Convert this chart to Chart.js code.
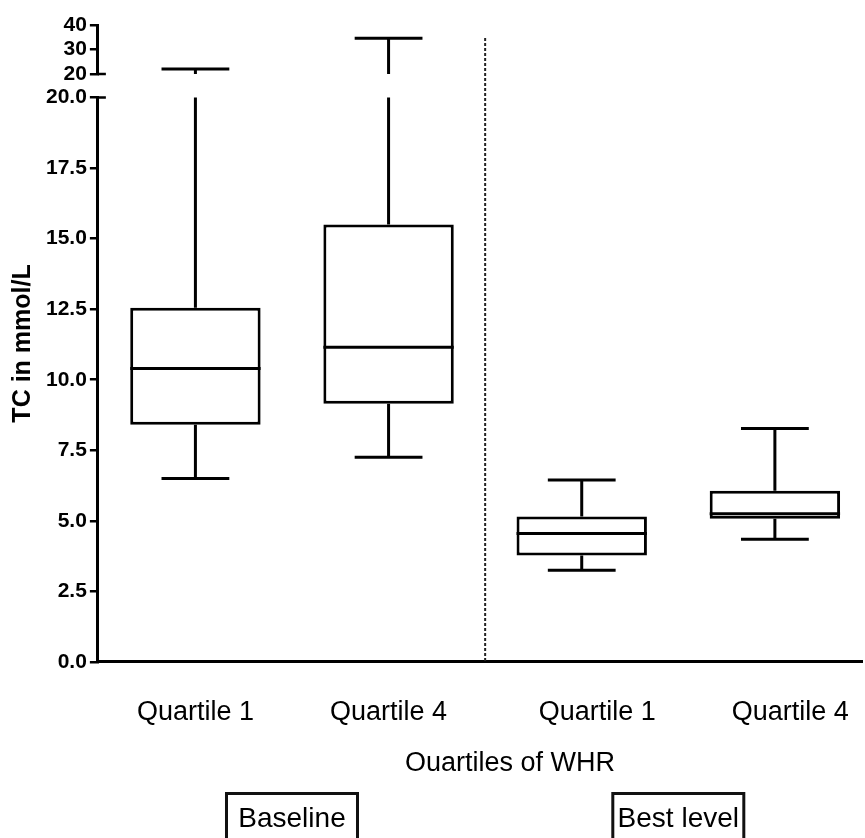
<!DOCTYPE html>
<html>
<head>
<meta charset="utf-8">
<script src="https://cdn.jsdelivr.net/npm/chart.js@4.4.1/dist/chart.umd.min.js"></script>
<style>
  body { margin: 0; background: #fff; }
  #wrap { width: 865px; height: 838px; }
</style>
</head>
<body>
<div id="wrap"><canvas id="tcChart"></canvas></div>
<script>
// groups along the x axis
const quartiles = ["Quartile 1", "Quartile 4", "Quartile 1", "Quartile 4"];
const periods = ["Baseline", "Baseline", "Best level", "Best level"];
const periodNames = ["Baseline", "Best level"];

// TC (mmol/L) five-number summary per group
const tcMin = [6.5, 7.25, 3.25, 4.35];
const tcQ1 = [8.4, 9.15, 3.77, 5.07];
const tcMedian = [10.4, 11.15, 4.55, 5.25];
const tcQ3 = [12.55, 15.5, 5.15, 6.07];
const tcMax = [22, 34.6, 6.45, 8.27];

// y axis is broken at 20: fine lower part, coarse upper part
const lowerTicks = [0, 2.5, 5, 7.5, 10, 12.5, 15, 17.5, 20];
const upperTicks = [20, 30, 40];
const AXIS_BREAK = 20;

const ink = "#000";
Chart.defaults.font.family = "'Liberation Sans', Arial, sans-serif";
Chart.defaults.color = ink;

// pixel segments of a vertical run [v0, v1], split over the break
function runSegments(scales, v0, v1) {
  const {y, yTop} = scales;
  const out = [];
  if (v0 < AXIS_BREAK) out.push([y.getPixelForValue(v0), y.getPixelForValue(Math.min(v1, AXIS_BREAK))]);
  if (v1 > AXIS_BREAK) out.push([yTop.getPixelForValue(Math.max(v0, AXIS_BREAK)), yTop.getPixelForValue(v1)]);
  return out;
}

function valuePixel(scales, v) {
  return v <= AXIS_BREAK ? scales.y.getPixelForValue(v) : scales.yTop.getPixelForValue(v);
}

const boxPlotParts = {
  id: "boxPlotParts",
  beforeDatasetsDraw(chart) {
    const {ctx, chartArea, scales} = chart;
    const meta = chart.getDatasetMeta(0);

    // dotted divider between baseline and best level
    const lastBase = periods.lastIndexOf(periodNames[0]);
    const sx = scales.x.getPixelForValue(lastBase + 0.5);
    ctx.save();
    ctx.strokeStyle = "#222";
    ctx.lineWidth = 2;
    ctx.setLineDash([3, 2]);
    ctx.beginPath();
    ctx.moveTo(sx, chartArea.top + 13);
    ctx.lineTo(sx, chartArea.bottom);
    ctx.stroke();
    ctx.restore();

    // whiskers and caps
    ctx.save();
    ctx.strokeStyle = ink;
    ctx.lineWidth = 3;
    meta.data.forEach((bar, i) => {
      const cap = bar.width * 0.26;
      const runs = runSegments(scales, tcQ3[i], tcMax[i]).concat(runSegments(scales, tcMin[i], tcQ1[i]));
      ctx.beginPath();
      runs.forEach(([a, b]) => { ctx.moveTo(bar.x, a); ctx.lineTo(bar.x, b); });
      [tcMin[i], tcMax[i]].forEach(v => {
        const py = valuePixel(scales, v);
        ctx.moveTo(bar.x - cap, py);
        ctx.lineTo(bar.x + cap, py);
      });
      ctx.stroke();
    });
    ctx.restore();
  },
  afterDatasetsDraw(chart) {
    const {ctx, scales} = chart;
    const meta = chart.getDatasetMeta(0);
    ctx.save();
    ctx.strokeStyle = ink;
    ctx.lineWidth = 3;
    meta.data.forEach((bar, i) => {
      const py = scales.y.getPixelForValue(tcMedian[i]);
      ctx.beginPath();
      ctx.moveTo(bar.x - bar.width / 2, py);
      ctx.lineTo(bar.x + bar.width / 2, py);
      ctx.stroke();
    });
    ctx.restore();
  },
  afterDraw(chart) {
    const {ctx, chartArea, scales} = chart;
    ctx.save();
    ctx.strokeStyle = ink;
    ctx.lineWidth = 2.5;

    // short stubs marking the axis break
    ctx.beginPath();
    ctx.moveTo(chartArea.left, scales.yTop.bottom);
    ctx.lineTo(chartArea.left + 8, scales.yTop.bottom);
    ctx.moveTo(chartArea.left, scales.y.top);
    ctx.lineTo(chartArea.left + 8, scales.y.top);
    ctx.stroke();

    // x axis caption
    ctx.fillStyle = ink;
    ctx.textAlign = "center";
    ctx.textBaseline = "alphabetic";
    ctx.font = "27px 'Liberation Sans', Arial, sans-serif";
    ctx.fillText("Ouartiles of WHR", (chartArea.left + chartArea.right) / 2 + 30, 771);

    // period labels in frames under each pair
    ctx.font = "28px 'Liberation Sans', Arial, sans-serif";
    ctx.lineWidth = 3;
    ctx.strokeStyle = "#111";
    periodNames.forEach(name => {
      const first = periods.indexOf(name);
      const last = periods.lastIndexOf(name);
      const cx = scales.x.getPixelForValue((first + last) / 2);
      ctx.strokeRect(cx - 65.5, 793.5, 131, 60);
      ctx.fillText(name, cx, 827);
    });
    ctx.restore();
  }
};

const tickGrid = {drawOnChartArea: false, color: ink, lineWidth: 2.5, tickLength: 8};
const tickFont = {size: 21, weight: "bold"};

new Chart(document.getElementById("tcChart"), {
  type: "bar",
  data: {
    datasets: [{
      label: "TC in mmol/L",
      data: quartiles.map((q, i) => ({x: i, y: [tcQ1[i], tcQ3[i]]})),
      yAxisID: "y",
      backgroundColor: "#fff",
      borderColor: ink,
      borderWidth: 3,
      borderSkipped: false,
      barPercentage: 0.675,
      categoryPercentage: 1
    }]
  },
  options: {
    responsive: true,
    maintainAspectRatio: false,
    animation: false,
    layout: {padding: {left: 3, right: 3, top: 25, bottom: 74}},
    plugins: {legend: {display: false}, tooltip: {enabled: false}},
    scales: {
      x: {
        type: "linear",
        offset: false,
        min: -0.505,
        max: 3.451,
        afterBuildTicks: scale => {
          scale.ticks = quartiles.map((q, i) => ({value: i + (periods[i] === periodNames[1] ? 0.08 : 0)}));
        },
        ticks: {
          callback: (v, i) => quartiles[i],
          font: {size: 27, lineHeight: 3.78},
          padding: 0,
          maxRotation: 0,
          autoSkip: false
        },
        grid: {display: false, drawTicks: false, offset: false},
        border: {color: ink, width: 3}
      },
      y: {
        type: "linear",
        position: "left",
        stack: "tc",
        stackWeight: 564.5,
        weight: 0,
        min: 0,
        max: 20,
        afterBuildTicks: scale => { scale.ticks = lowerTicks.map(v => ({value: v})); },
        ticks: {font: tickFont, padding: 3, autoSkip: false, callback: v => v.toFixed(1)},
        grid: tickGrid,
        border: {color: ink, width: 3}
      },
      yGap: {
        type: "linear",
        position: "left",
        stack: "tc",
        stackWeight: 23.5,
        weight: 1,
        display: false
      },
      yTop: {
        type: "linear",
        position: "left",
        stack: "tc",
        stackWeight: 49,
        weight: 2,
        min: 20,
        max: 40,
        afterBuildTicks: scale => { scale.ticks = upperTicks.map(v => ({value: v})); },
        ticks: {font: tickFont, padding: 3, autoSkip: false, callback: v => String(v)},
        grid: tickGrid,
        border: {color: ink, width: 3}
      },
      yTitle: {
        type: "linear",
        position: "left",
        weight: 3,
        grid: {display: false, drawTicks: false},
        border: {display: false},
        ticks: {display: false},
        title: {
          display: true,
          text: "TC in mmol/L",
          font: {size: 25, weight: "bold"},
          padding: {top: 5, bottom: 5}
        }
      }
    }
  },
  plugins: [boxPlotParts]
});
</script>
</body>
</html>
